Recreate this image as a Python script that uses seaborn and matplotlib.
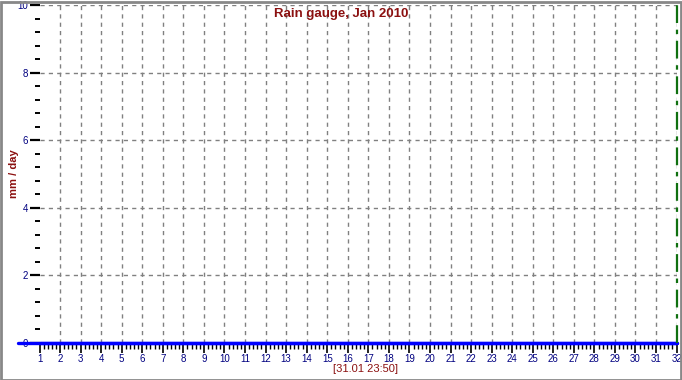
import numpy as np
import pandas as pd
import seaborn as sns
import matplotlib
matplotlib.use("Agg")
import matplotlib.pyplot as plt
from matplotlib.ticker import MultipleLocator
from matplotlib.patches import Rectangle

# ---- data ----
days = [1, 2, 3, 4, 5, 6, 7, 8, 9, 10, 11, 12, 13, 14, 15, 16,
        17, 18, 19, 20, 21, 22, 23, 24, 25, 26, 27, 28, 29, 30, 31, 32]
rain_mm = [0.0, 0.0, 0.0, 0.0, 0.0, 0.0, 0.0, 0.0, 0.0, 0.0, 0.0, 0.0, 0.0, 0.0, 0.0, 0.0,
           0.0, 0.0, 0.0, 0.0, 0.0, 0.0, 0.0, 0.0, 0.0, 0.0, 0.0, 0.0, 0.0, 0.0, 0.0, 0.0]
x_ticks = list(range(1, 33))
y_ticks = [0, 2, 4, 6, 8, 10]
now_marker = [32]
title = "Rain gauge, Jan 2010"
ylabel = "mm / day"
xlabel = "[31.01 23:50]"

df = pd.DataFrame({"day": days, "rain": rain_mm})

sns.set_style("white")
plt.rcParams["font.family"] = ["Liberation Sans", "DejaVu Sans"]

W, H = 682, 380
fig = plt.figure(figsize=(W / 100, H / 100), dpi=100)
fig.patch.set_facecolor("white")
ax = fig.add_axes([39.5 / W, 1 - 343 / H, (676.6 - 39.5) / W, (343 - 5) / H])
ax.set_facecolor("white")

dark_red = "#8B1010"
navy = "#000080"

ax.set_xlim(1, 32)
ax.set_ylim(0, 10)
ax.set_xticks(x_ticks)
ax.set_yticks(y_ticks)
ax.xaxis.set_minor_locator(MultipleLocator(0.2))
ax.yaxis.set_minor_locator(MultipleLocator(0.4))
ax.grid(True, which="major", color="#808080", linestyle=(0, (3, 3)), linewidth=1.0)
ax.get_xgridlines()[0].set_visible(False)
ax.get_ygridlines()[0].set_visible(False)

for s in ["top", "right", "left", "bottom"]:
    ax.spines[s].set_visible(False)

# data line (zero rainfall)
sns.lineplot(data=df, x="day", y="rain", color="#0000FF", linewidth=2.4, ax=ax,
             zorder=4, clip_on=False)
ax.axhline(0, xmin=-0.033, xmax=1.0, color="#0000FF", linewidth=2.4, clip_on=False, zorder=4)

# current-time marker
for d in now_marker:
    ax.axvline(d, color="#107010", linewidth=1.6, linestyle=(0, (8, 3, 2, 3)),
               zorder=5, clip_on=False)

ax.tick_params(axis="x", which="major", direction="out", length=7, width=1.2,
               color="black", labelsize=7, labelcolor=navy, pad=1, bottom=True)
ax.tick_params(axis="x", which="minor", direction="out", length=4, width=1.0,
               color="black", bottom=True)
ax.tick_params(axis="y", which="major", direction="out", length=7, width=1.6,
               color="black", labelsize=7, labelcolor=navy, pad=1, left=True)
ax.tick_params(axis="y", which="minor", direction="out", length=3.5, width=1.4,
               color="black", left=True)

ax.set_xlabel(xlabel, color=dark_red, fontsize=8)
ax.xaxis.set_label_coords((366 - 39.5) / 637.1, -(364.5 - 343) / 338)
ax.set_ylabel(ylabel, color=dark_red, fontsize=8, fontweight="bold")
ax.yaxis.set_label_coords((19 - 39.5) / 637.1, 0.5)
fig.text(341 / W, 1 - 14 / H, title, color=dark_red, fontsize=9.5, fontweight="bold",
         ha="center", va="center")

# figure border
fig.patches.append(Rectangle((0.5 / W, 0.5 / H), (W - 2) / W, (H - 2) / H,
                             transform=fig.transFigure, fill=False,
                             edgecolor="#888888", linewidth=2))

fig.savefig("out.png", dpi=100)
